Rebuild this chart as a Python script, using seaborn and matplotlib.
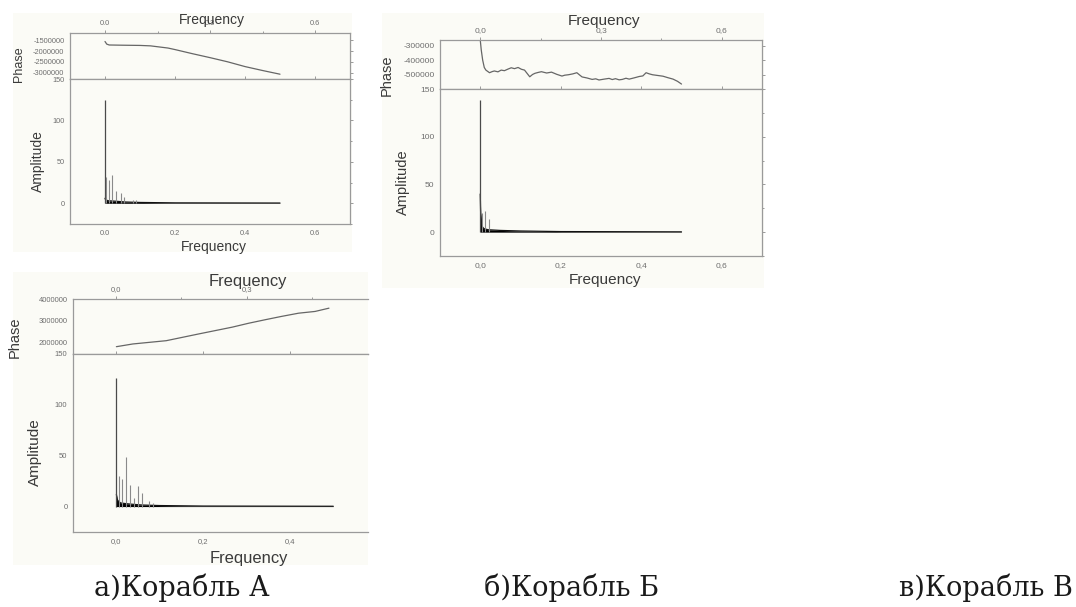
import matplotlib
matplotlib.use("Agg")
import matplotlib.pyplot as plt
import matplotlib.ticker as mticker
from matplotlib.patches import Rectangle
import seaborn as sns

# ---------------- data ----------------
# Ship A
phase_freq_a = [0.0, 0.005, 0.012, 0.05, 0.10, 0.13, 0.18, 0.20, 0.25, 0.30, 0.35, 0.40, 0.45, 0.50]
phase_val_a = [-1.56e6, -1.68e6, -1.72e6, -1.73e6, -1.74e6, -1.76e6, -1.86e6, -1.93e6,
               -2.12e6, -2.30e6, -2.49e6, -2.71e6, -2.89e6, -3.06e6]
spike_freq_a = [0.0, 0.003, 0.012, 0.020, 0.030, 0.045, 0.055, 0.080, 0.088]
spike_amp_a = [125, 32, 28, 34, 15, 12, 8, 4, 4]
band_freq_a = [0.0, 0.002, 0.010, 0.030, 0.060, 0.100, 0.200, 0.500]
band_amp_a = [6, 4, 3, 2.5, 1.5, 1.0, 0.5, 0.3]

# Ship B
phase_freq_b = [0.0, 0.0025, 0.006, 0.010, 0.014, 0.023, 0.030, 0.035, 0.044, 0.052, 0.060,
                0.069, 0.077, 0.085, 0.094, 0.102, 0.110, 0.123, 0.130, 0.136, 0.144, 0.152,
                0.165, 0.177, 0.190, 0.203, 0.210, 0.219, 0.230, 0.240, 0.247, 0.253, 0.265,
                0.278, 0.287, 0.295, 0.308, 0.320, 0.328, 0.336, 0.345, 0.353, 0.362, 0.370,
                0.383, 0.395, 0.404, 0.412, 0.420, 0.428, 0.441, 0.454, 0.466, 0.479, 0.490,
                0.500]
phase_val_b = [-260e3, -330e3, -399e3, -450e3, -468e3, -486e3, -478e3, -474e3, -480e3, -468e3,
               -472e3, -461e3, -452e3, -458e3, -450e3, -462e3, -468e3, -514e3, -498e3, -490e3,
               -484e3, -479e3, -488e3, -482e3, -497e3, -509e3, -503e3, -500e3, -494e3, -486e3,
               -502e3, -515e3, -522e3, -532e3, -528e3, -536e3, -530e3, -525e3, -533e3, -527e3,
               -535e3, -532e3, -524e3, -530e3, -521e3, -512e3, -508e3, -486e3, -494e3, -500e3,
               -505e3, -510e3, -520e3, -530e3, -545e3, -564e3]
spike_freq_b = [0.0, 0.004, 0.012, 0.021]
spike_amp_b = [138, 20, 22, 14]
band_freq_b = [0.0, 0.001, 0.003, 0.006, 0.010, 0.020, 0.050, 0.100, 0.200, 0.500]
band_amp_b = [40, 20, 10, 5, 3.5, 2.5, 1.8, 1.2, 0.6, 0.3]

# Ship C
phase_freq_c = [0.0, 0.038, 0.115, 0.190, 0.267, 0.305, 0.343, 0.380, 0.420, 0.458, 0.490]
phase_val_c = [1.815e6, 1.94e6, 2.09e6, 2.40e6, 2.71e6, 2.89e6, 3.05e6, 3.20e6, 3.35e6, 3.43e6, 3.58e6]
spike_freq_c = [0.0, 0.005, 0.014, 0.023, 0.032, 0.040, 0.050, 0.059, 0.076, 0.084]
spike_amp_c = [126, 30, 27, 49, 21, 8, 20, 13, 5, 4]
band_freq_c = [0.0, 0.002, 0.005, 0.010, 0.030, 0.060, 0.100, 0.200, 0.500]
band_amp_c = [12, 7, 5, 3.5, 2.5, 1.5, 1.0, 0.5, 0.3]

phase_ticks_a = [-1500000, -2000000, -2500000, -3000000]
phase_ticks_b = [-300000, -400000, -500000]
phase_ticks_c = [2000000, 3000000, 4000000]
amp_ticks = [0, 50, 100, 150]
freq_ticks_bottom = [0.0, 0.2, 0.4, 0.6]
freq_ticks_top = [0.0, 0.3, 0.6]
freq_ticks_bottom_c = [0.0, 0.2, 0.4]
freq_ticks_top_c = [0.0, 0.3]

captions = ["а)Корабль А", "б)Корабль Б", "в)Корабль В"]
x_label = "Frequency"
phase_label = "Phase"
amp_label = "Amplitude"

# ---------------- style ----------------
sns.set_theme(style="white")
plt.rcParams['font.family'] = ['Liberation Sans', 'DejaVu Sans']
plt.rcParams['axes.unicode_minus'] = False

W, H = 1076, 607
fig = plt.figure(figsize=(W / 100, H / 100), dpi=100)
BG = '#fbfbf6'
FRAME = '#9a9a9a'
LABEL_C = '#3a3a3a'
TICK_C = '#6e6e6e'


def box(x0, y0, x1, y1):
    return [x0 / W, 1 - y1 / H, (x1 - x0) / W, (y1 - y0) / H]


def ftext(x, y, s, **kw):
    fig.text(x / W, 1 - y / H, s, ha='center', va='center', **kw)


def panel(cfg):
    x0, x1 = cfg['x0'], cfg['x1']
    yt, yd, yb = cfg['ytop'], cfg['ydiv'], cfg['ybot']
    bx = cfg['bg']
    fig.patches.append(Rectangle((bx[0] / W, 1 - bx[3] / H), (bx[2] - bx[0]) / W,
                                 (bx[3] - bx[1]) / H, transform=fig.transFigure,
                                 facecolor=BG, edgecolor='none', zorder=-10))
    axp = fig.add_axes(box(x0, yt, x1, yd))
    axa = fig.add_axes(box(x0, yd, x1, yb))
    sep = cfg['sep']
    fmt = mticker.FuncFormatter(lambda v, p: f"{v:.1f}".replace('.', sep))
    for ax in (axp, axa):
        ax.set_facecolor(BG)
        ax.set_xlim(-0.1, cfg['xmax'])
        for s in ax.spines.values():
            s.set_color(FRAME)
            s.set_linewidth(0.9)
        if cfg['crop']:
            ax.spines['right'].set_visible(False)
        ax.tick_params(which='both', direction='out', colors=FRAME,
                       labelcolor=TICK_C, labelsize=cfg['tfs'], width=0.7, pad=1.5,
                       right=not cfg['crop'])
        ax.tick_params(which='major', length=2.5)
        ax.tick_params(which='minor', length=1.5)

    # phase curve
    sns.lineplot(x=cfg['pf'], y=cfg['pv'], ax=axp, color='#666666', linewidth=0.9,
                 sort=False, estimator=None)
    axp.set_ylim(*cfg['plim'])
    axp.set_yticks(cfg['pticks'])
    axp.yaxis.set_major_formatter(mticker.FuncFormatter(lambda v, p: f"{v:.0f}"))
    axp.xaxis.set_ticks_position('both')
    axp.tick_params(axis='x', labeltop=True, labelbottom=False, top=True, bottom=True)
    axp.set_xticks(cfg['xt_top'])
    axp.xaxis.set_minor_locator(mticker.MultipleLocator(0.15))
    axp.xaxis.set_major_formatter(fmt)
    axp.set_xlim(-0.1, cfg['xmax'])
    axp.set_xlabel('')
    axp.set_ylabel('')

    # amplitude spectrum
    axa.fill_between(cfg['bf'], 0, cfg['ba'], color='black', linewidth=0, zorder=2)
    sns.lineplot(x=cfg['bf'], y=cfg['ba'], ax=axa, color='#111111', linewidth=0.9,
                 sort=False, estimator=None, zorder=3)
    axa.vlines(cfg['sf'][:1], 0, cfg['sa'][:1], color='#4a4a4a', linewidth=0.9, zorder=3)
    axa.vlines(cfg['sf'][1:], 0, cfg['sa'][1:], color='#8a8a8a', linewidth=0.8, zorder=3)
    axa.set_ylim(-25, 150)
    axa.set_yticks(amp_ticks)
    axa.yaxis.set_minor_locator(mticker.MultipleLocator(25))
    axa.set_xticks(cfg['xt_bot'])
    axa.xaxis.set_minor_locator(mticker.MultipleLocator(0.1))
    axa.xaxis.set_major_formatter(fmt)
    axa.set_xlim(-0.1, cfg['xmax'])
    axa.tick_params(axis='x', top=True)
    axa.set_xlabel('')
    axa.set_ylabel('')

    lab = dict(color=LABEL_C)
    ftext(*cfg['top_lab'], x_label, fontsize=cfg['ffs'], **lab)
    ftext(*cfg['bot_lab'], x_label, fontsize=cfg['ffs'], **lab)
    ftext(*cfg['ph_lab'], phase_label, fontsize=cfg['pfs'], rotation=90, **lab)
    ftext(*cfg['am_lab'], amp_label, fontsize=cfg['afs'], rotation=90, **lab)


panel(dict(x0=70, x1=350, ytop=33, ydiv=79, ybot=224, bg=(13, 13, 352, 252),
           xmax=0.7, crop=False, sep='.', xt_top=freq_ticks_top, xt_bot=freq_ticks_bottom,
           pf=phase_freq_a, pv=phase_val_a, plim=(-3.28e6, -1.17e6), pticks=phase_ticks_a,
           sf=spike_freq_a, sa=spike_amp_a, bf=band_freq_a, ba=band_amp_a,
           tfs=5.3, ffs=10, pfs=9, afs=10,
           top_lab=(212, 20), bot_lab=(214, 247), ph_lab=(19, 64), am_lab=(38, 161)))

panel(dict(x0=440, x1=762, ytop=40, ydiv=89, ybot=256, bg=(382, 13, 764, 288),
           xmax=0.7, crop=False, sep=',', xt_top=freq_ticks_top, xt_bot=freq_ticks_bottom,
           pf=phase_freq_b, pv=phase_val_b, plim=(-598e3, -261e3), pticks=phase_ticks_b,
           sf=spike_freq_b, sa=spike_amp_b, bf=band_freq_b, ba=band_amp_b,
           tfs=6, ffs=11.1, pfs=10.5, afs=10.5,
           top_lab=(604, 21), bot_lab=(605, 280), ph_lab=(387, 75), am_lab=(403, 182)))

panel(dict(x0=73, x1=368, ytop=299, ydiv=354, ybot=532, bg=(13, 272, 368, 565),
           xmax=0.58, crop=True, sep=',', xt_top=freq_ticks_top_c, xt_bot=freq_ticks_bottom_c,
           pf=phase_freq_c, pv=phase_val_c, plim=(1.48e6, 4.0e6), pticks=phase_ticks_c,
           sf=spike_freq_c, sa=spike_amp_c, bf=band_freq_c, ba=band_amp_c,
           tfs=5.5, ffs=11.9, pfs=10.5, afs=11,
           top_lab=(248, 281), bot_lab=(249, 558), ph_lab=(15, 337), am_lab=(35, 452)))

cap_x = [182, 571, 986]
for cx, txt in zip(cap_x, captions):
    ftext(cx, 588, txt, fontsize=19.5, family='DejaVu Serif', color='#1a1a1a')

fig.savefig("out.png", dpi=100, facecolor='white')
